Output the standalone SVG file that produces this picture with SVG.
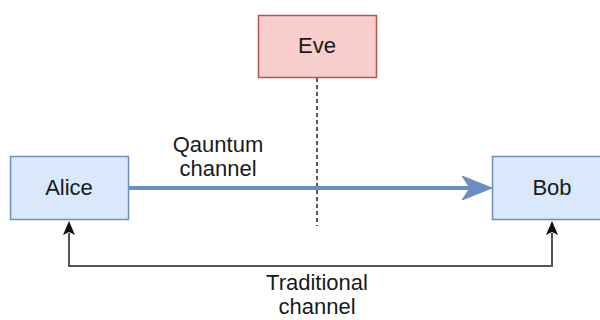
<svg xmlns="http://www.w3.org/2000/svg" width="600" height="320" viewBox="0 0 600 320">
<defs>
<style>
.blue{fill:#dae8fc;stroke:#6c8ebf;stroke-width:1.5}
.red{fill:#f8cecc;stroke:#b85450;stroke-width:1.5}
text{font-family:"Liberation Sans",Arial,sans-serif;font-size:22px;fill:#1a1a1a;text-anchor:middle}
</style>
</defs>
<rect width="600" height="320" fill="#fff"/>
<g id="connectors">
<line x1="317" y1="78" x2="317" y2="226" stroke="#222" stroke-width="1.5" stroke-dasharray="4 3"/>
<path d="M129,188 H470" stroke="#6c8ebf" stroke-width="4" fill="none"/>
<path d="M492,188 L462,176 L470,188 L462,200 Z" fill="#6c8ebf" stroke="#6c8ebf" stroke-width="1" stroke-linejoin="miter"/>
<path d="M69,233 V266 H552 V233" stroke="#555" stroke-width="2" fill="none"/>
<path d="M69,221 L63,235 L69,232 L75,235 Z" fill="#111"/>
<path d="M552,221 L546,235 L552,232 L558,235 Z" fill="#111"/>
<text x="218" y="152">Qauntum</text>
<text x="218" y="176">channel</text>
<text x="317" y="290">Traditional</text>
<text x="317" y="314">channel</text>
</g>
<g id="alice"><rect class="blue" x="10.5" y="156.5" width="118" height="63"/><text x="69" y="195">Alice</text></g>
<g id="bob"><rect class="blue" x="492.5" y="156.5" width="118" height="63"/><text x="552" y="195">Bob</text></g>
<g id="eve"><rect class="red" x="258.5" y="15.5" width="118" height="62"/><text x="317" y="53">Eve</text></g>
</svg>
